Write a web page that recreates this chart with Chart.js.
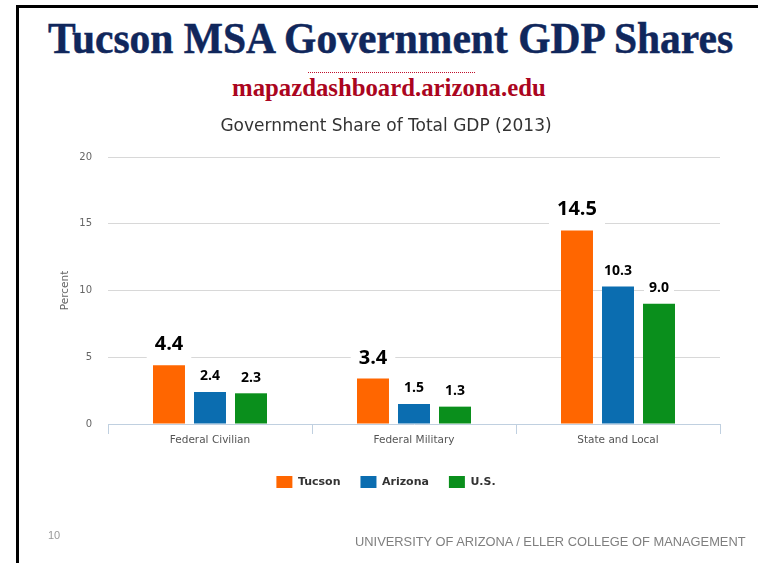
<!DOCTYPE html>
<html>
<head>
<meta charset="utf-8">
<script src="https://cdn.jsdelivr.net/npm/chart.js@4/dist/chart.umd.min.js"></script>
<style>
  html, body { margin: 0; padding: 0; background: #fff; }
  body { width: 758px; height: 563px; position: relative; overflow: hidden; }
  .abs { position: absolute; white-space: nowrap; }
  #bLeft { left: 16px; top: 5px; width: 3px; height: 560px; background: #000; }
  #bTop { left: 16px; top: 5px; width: 742px; height: 3px; background: #000; }
  #title { left: 48px; top: 17px; font: bold 44px/44px "Liberation Serif", serif; color: #10275c; transform-origin: 0 0; -webkit-text-stroke: 0.5px #10275c; }
  #dots { left: 308px; top: 72px; width: 167px; height: 0; border-top: 1px dotted #c0102c; }
  #sub { left: 232px; top: 75px; font: bold 25px/25px "Liberation Serif", serif; color: #ab0520; transform-origin: 0 0; }
  #foot { left: 355px; top: 535px; font: 12.9px/13px "Liberation Sans", sans-serif; color: #7f7f7f; transform-origin: 0 0; }
  #pnum { left: 48px; top: 530px; font: 11px/11px "Liberation Sans", sans-serif; color: #999; }
  #c { position: absolute; left: 0; top: 0; }
</style>
</head>
<body>
<div class="abs" id="bLeft"></div>
<div class="abs" id="bTop"></div>
<div class="abs" id="title">Tucson MSA Government GDP Shares</div>
<div class="abs" id="dots"></div>
<div class="abs" id="sub">mapazdashboard.arizona.edu</div>
<canvas id="c" width="758" height="563"></canvas>
<div class="abs" id="pnum">10</div>
<div class="abs" id="foot">UNIVERSITY OF ARIZONA / ELLER COLLEGE OF MANAGEMENT</div>
<script>
const categories = ['Federal Civilian', 'Federal Military', 'State and Local'];
const seriesNames = ['Tucson', 'Arizona', 'U.S.'];
const tucson = [4.4, 3.4, 14.5];
const arizona = [2.4, 1.5, 10.3];
const us = [2.3, 1.3, 9.0];
const yTicks = [0, 5, 10, 15, 20];
const chartTitle = 'Government Share of Total GDP (2013)';
const yTitle = 'Percent';

// fit HTML texts to measured widths
(function () {
  const fit = (id, w) => {
    const el = document.getElementById(id);
    el.style.transform = 'scaleX(' + (w / el.offsetWidth) + ')';
  };
  fit('title', 685);
  fit('sub', 314);
  fit('foot', 391);
})();

const valueLabels = {
  id: 'valueLabels',
  afterDatasetsDraw(chart) {
    const ctx = chart.ctx;
    chart.data.datasets.forEach((ds, di) => {
      const meta = chart.getDatasetMeta(di);
      const big = di === 0;
      const fs = big ? 20 : 14;
      const gap = big ? 15 : 11.5;
      const padX = big ? 8 : 5;
      const below = big ? 9 : 7;
      meta.data.forEach((bar, i) => {
        const txt = ds.data[i].toFixed(1);
        ctx.save();
        ctx.font = 'bold ' + fs + 'px "Open Sans"';
        const w = ctx.measureText(txt).width;
        const base = bar.y - gap;
        ctx.fillStyle = '#ffffff';
        ctx.fillRect(bar.x - w / 2 - padX, base - fs * 0.9, w + 2 * padX, fs * 0.9 + below);
        ctx.fillStyle = '#000000';
        ctx.textAlign = 'center';
        ctx.textBaseline = 'alphabetic';
        ctx.fillText(txt, bar.x, base);
        ctx.restore();
      });
    });
  }
};

new Chart(document.getElementById('c'), {
  type: 'bar',
  data: {
    labels: categories,
    datasets: [
      { label: seriesNames[0], data: tucson, backgroundColor: '#ff6600', borderWidth: 0 },
      { label: seriesNames[1], data: arizona, backgroundColor: '#0b6db0', borderWidth: 0 },
      { label: seriesNames[2], data: us, backgroundColor: '#0a8f1c', borderWidth: 0 }
    ]
  },
  options: {
    responsive: false,
    animation: false,
    devicePixelRatio: 1,
    layout: { padding: { left: 52, right: 38, top: 116, bottom: 65 } },
    datasets: { bar: { categoryPercentage: 0.603, barPercentage: 0.78 } },
    plugins: {
      title: {
        display: true, text: chartTitle, color: '#333333',
        font: { family: 'DejaVu Sans', size: 17, weight: 'normal', lineHeight: 1.2 },
        padding: { top: 0, bottom: 20.6 }
      },
      legend: {
        position: 'bottom',
        labels: {
          boxWidth: 16, boxHeight: 12, padding: 20, color: '#333333',
          font: { family: 'DejaVu Sans', size: 11, weight: 'bold' }
        }
      },
      tooltip: { enabled: false }
    },
    scales: {
      x: {
        grid: { display: true, drawOnChartArea: false, drawTicks: true, tickLength: 10, color: '#c0d0e0', offset: true },
        border: { display: true, color: '#c0d0e0' },
        ticks: { color: '#555555', padding: 0, font: { family: 'DejaVu Sans', size: 10.5 } },
        afterFit: s => { s.height = 32; }
      },
      y: {
        min: 0, max: 20,
        afterBuildTicks: s => { s.ticks = yTicks.map(v => ({ value: v })); },
        ticks: { padding: 16, color: '#666666', font: { family: 'DejaVu Sans', size: 10 } },
        grid: { drawTicks: false, color: c => (c.tick && c.tick.value === 0) ? 'rgba(0,0,0,0)' : '#d8d8d8' },
        border: { display: false },
        title: {
          display: true, text: yTitle, color: '#666666',
          font: { family: 'DejaVu Sans', size: 10.5 },
          padding: { top: 6.7, bottom: 0 }
        },
        afterFit: s => { s.width = 56; }
      }
    }
  },
  plugins: [valueLabels]
});
</script>
</body>
</html>
